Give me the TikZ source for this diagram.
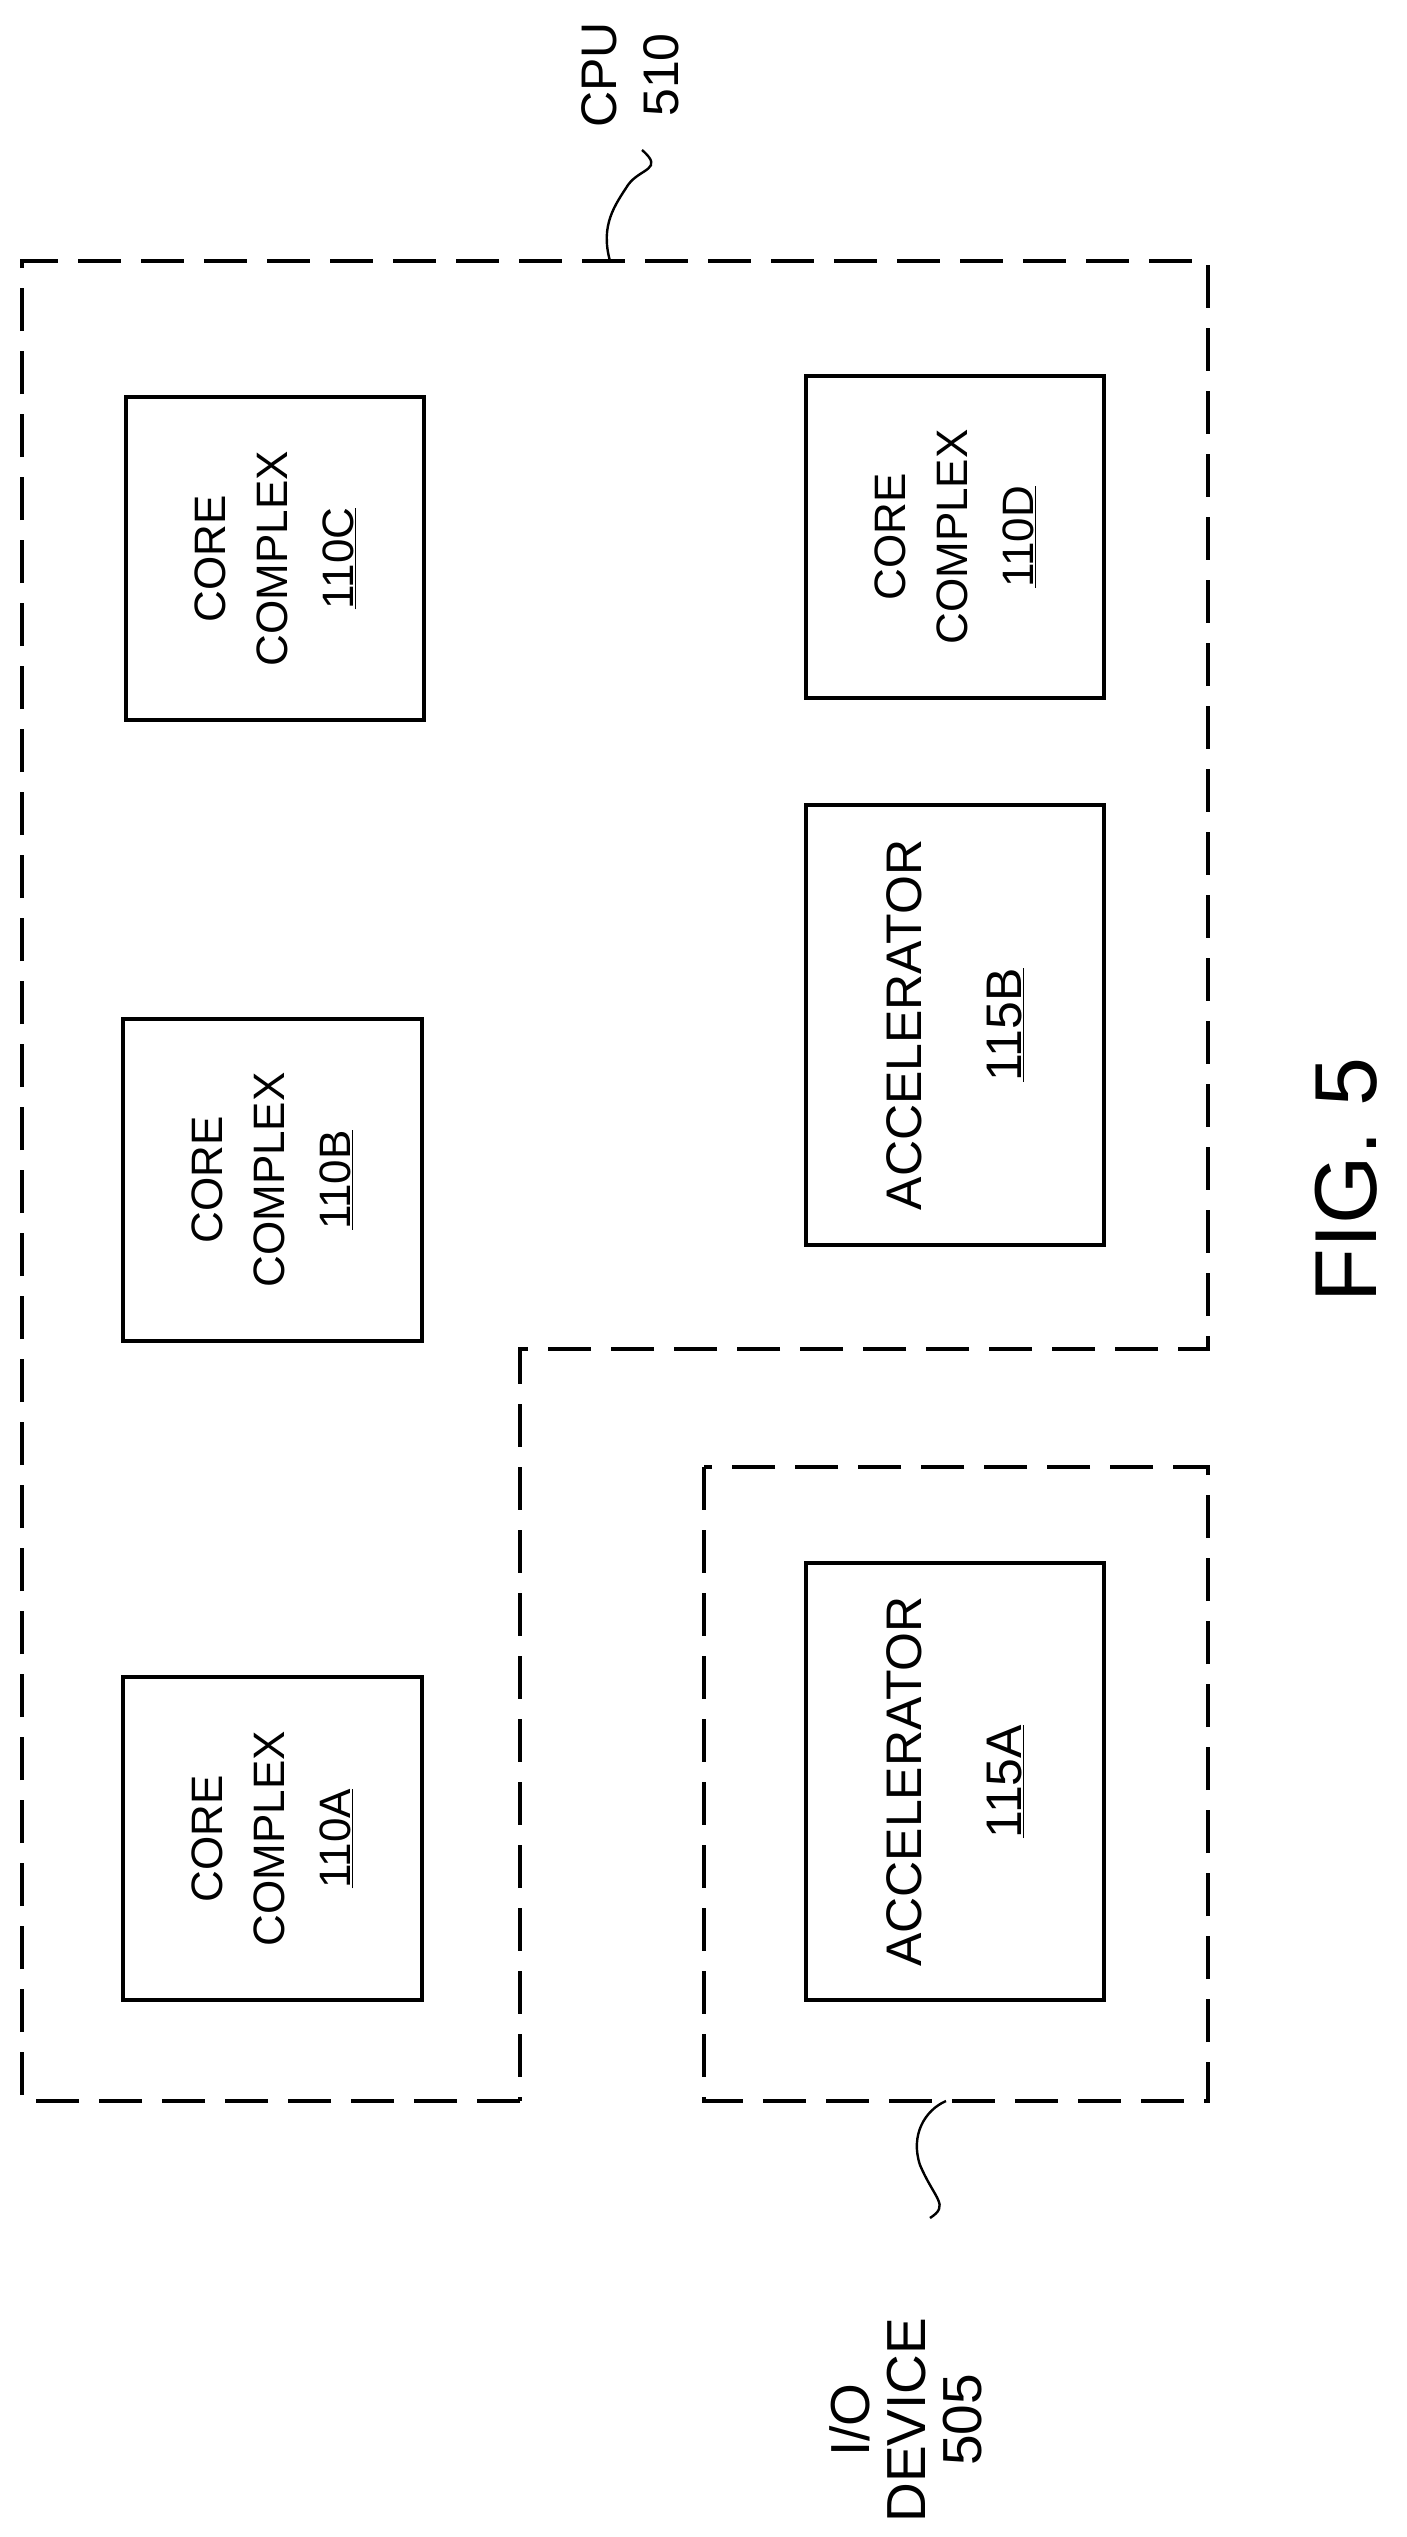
\documentclass[tikz,border=0pt]{standalone}
\usepackage{fontspec}
\setmainfont{Liberation Sans}
\begin{document}
\begin{tikzpicture}[x=1pt,y=-1pt,
  dsh/.style={line width=3.4pt, dash pattern=on 43pt off 20pt},
  blk/.style={draw, line width=3.4pt},
  lbl/.style={rotate=90, align=center, font=\fontsize{44}{62}\selectfont},
  lead/.style={line width=2.4pt}]
\useasboundingbox (0,0) rectangle (1407,2537);
% CPU outline
\draw[dsh] (520,2101) -- (22,2101) -- (22,261) -- (1208,261) -- (1208,1349) -- (520,1349) -- cycle;
% I/O device outline
\draw[dsh] (704,1467) rectangle (1208,2101);
% boxes
\draw[blk] (126,397) rectangle (424,720) node[pos=.5,lbl] (c) {CORE\\COMPLEX\\[4pt]\underline{110C}};
\draw[blk] (806,376) rectangle (1104,698) node[pos=.5,lbl] (d) {CORE\\COMPLEX\\[4pt]\underline{110D}};
\draw[blk] (123,1019) rectangle (422,1341) node[pos=.5,lbl] (b) {CORE\\COMPLEX\\[4pt]\underline{110B}};
\draw[blk] (123,1677) rectangle (422,2000) node[pos=.5,lbl] (a) {CORE\\COMPLEX\\[4pt]\underline{110A}};
\draw[blk] (806,805) rectangle (1104,1245) node[pos=.5,lbl,font=\fontsize{50}{100}\selectfont] (ab) {ACCELERATOR\\\underline{115B}};
\draw[blk] (806,1563) rectangle (1104,2000) node[pos=.5,lbl,font=\fontsize{50}{100}\selectfont] (aa) {ACCELERATOR\\\underline{115A}};
% labels
\node[lbl, font=\fontsize{50}{62}\selectfont] (cpu) at (630,75) {CPU\\510};
\coordinate (cpuA) at (610,261);
\coordinate (cpuB) at (642,150);
\draw[lead] (cpuA) .. controls (600,225) and (615,205) .. (628,185) .. controls (640,168) and (665,170) .. (cpuB);
\node[lbl, font=\fontsize{55}{56}\selectfont] (io) at (906,2420) {I/O\\DEVICE\\505};
\coordinate (ioA) at (946,2101);
\coordinate (ioB) at (930,2218);
\draw[lead] (ioA) .. controls (925,2110) and (910,2135) .. (920,2165) .. controls (935,2200) and (950,2205) .. (ioB);
\node[rotate=90, font=\fontsize{88}{90}\selectfont] (fig) at (1346,1180) {FIG. 5};
\end{tikzpicture}
\end{document}
